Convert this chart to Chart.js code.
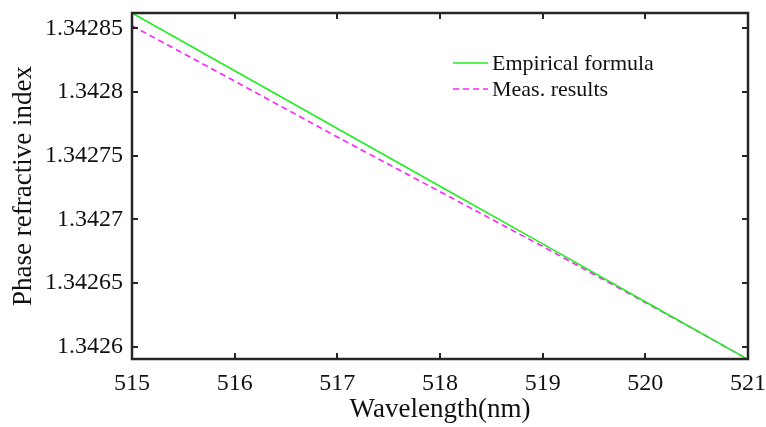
<!DOCTYPE html>
<html>
<head>
<meta charset="utf-8">
<script src="https://cdn.jsdelivr.net/npm/chart.js@4.4.1/dist/chart.umd.min.js"></script>
<style>
  html, body { margin: 0; padding: 0; background: #fff; }
  #wrap { width: 766px; height: 427px; }
</style>
</head>
<body>
<div id="wrap"><canvas id="c" width="766" height="427"></canvas></div>
<script>
// Wavelength samples (nm)
const wavelengths = [515, 516, 517, 518, 519, 520, 521];
// Phase refractive index from the empirical formula
const empirical = [1.342862, 1.3428167, 1.3427713, 1.342726, 1.3426807, 1.3426353, 1.34259];
// Measured phase refractive index
const measured = [1.342852, 1.3428085, 1.3427646, 1.3427217, 1.3426787, 1.3426347, 1.34259];
// Axis tick values
const xTicks = [515, 516, 517, 518, 519, 520, 521];
const yTicks = [1.3426, 1.34265, 1.3427, 1.34275, 1.3428, 1.34285];
const yTickLabels = ['1.3426', '1.34265', '1.3427', '1.34275', '1.3428', '1.34285'];

const FONT = "'Liberation Serif', 'Times New Roman', serif";
const INK = '#262626';

// Box frame with inward tick marks on all four sides
const framePlugin = {
  id: 'frame',
  afterDraw(chart) {
    const { ctx, chartArea: a, scales: { x, y } } = chart;
    ctx.save();
    ctx.strokeStyle = INK;
    ctx.lineWidth = 2;
    const len = 6;
    ctx.beginPath();
    xTicks.forEach(v => {
      const px = Math.round(x.getPixelForValue(v));
      ctx.moveTo(px, a.bottom); ctx.lineTo(px, a.bottom - len);
      ctx.moveTo(px, a.top); ctx.lineTo(px, a.top + len);
    });
    yTicks.forEach(v => {
      const py = Math.round(y.getPixelForValue(v));
      ctx.moveTo(a.left, py); ctx.lineTo(a.left + len, py);
      ctx.moveTo(a.right, py); ctx.lineTo(a.right - len, py);
    });
    ctx.stroke();
    ctx.lineWidth = 2.5;
    ctx.strokeRect(a.left, a.top, a.right - a.left, a.bottom - a.top);
    ctx.restore();
  }
};

// Legend drawn inside the plot, no box
const legendPlugin = {
  id: 'inlineLegend',
  afterDraw(chart) {
    const { ctx } = chart;
    ctx.save();
    ctx.font = '22px ' + FONT;
    ctx.textBaseline = 'middle';
    ctx.fillStyle = '#111';
    const x0 = 453, x1 = 488, tx = 492;
    const rows = [63, 89];
    chart.data.datasets.forEach((ds, i) => {
      ctx.strokeStyle = ds.borderColor;
      ctx.lineWidth = ds.borderWidth;
      ctx.setLineDash(ds.borderDash || []);
      ctx.beginPath();
      ctx.moveTo(x0, rows[i]); ctx.lineTo(x1, rows[i]);
      ctx.stroke();
      ctx.setLineDash([]);
      ctx.fillText(ds.label, tx, rows[i] + 1);
    });
    ctx.restore();
  }
};

new Chart(document.getElementById('c'), {
  type: 'line',
  data: {
    datasets: [
      {
        label: 'Empirical formula',
        data: wavelengths.map((w, i) => ({ x: w, y: empirical[i] })),
        borderColor: '#22ee22',
        borderWidth: 1.6,
        pointRadius: 0,
        tension: 0
      },
      {
        label: 'Meas. results',
        data: wavelengths.map((w, i) => ({ x: w, y: measured[i] })),
        borderColor: '#ff22ff',
        borderWidth: 1.6,
        borderDash: [6, 4],
        pointRadius: 0,
        tension: 0
      }
    ]
  },
  options: {
    responsive: false,
    animation: false,
    layout: { padding: { top: 13, right: 18, left: 0, bottom: 0 } },
    plugins: { legend: { display: false }, tooltip: { enabled: false } },
    scales: {
      x: {
        type: 'linear',
        min: 515, max: 521,
        afterFit(s) { s.height = 68; s.paddingLeft = 0; s.paddingRight = 0; },
        afterBuildTicks(s) { s.ticks = xTicks.map(v => ({ value: v })); },
        grid: { display: false, drawTicks: false },
        border: { display: false },
        ticks: { color: '#111', font: { family: FONT, size: 24 }, padding: 10, maxRotation: 0 },
        title: { display: true, text: 'Wavelength(nm)', color: '#111', font: { family: FONT, size: 27 }, padding: 1 }
      },
      y: {
        type: 'linear',
        min: 1.3425903, max: 1.342862,
        afterFit(s) { s.width = 132; s.paddingTop = 0; s.paddingBottom = 0; },
        afterBuildTicks(s) { s.ticks = yTicks.map(v => ({ value: v })); },
        grid: { display: false, drawTicks: false },
        border: { display: false },
        ticks: {
          color: '#111', font: { family: FONT, size: 24 }, padding: 9,
          callback: (v) => { const i = yTicks.findIndex(t => Math.abs(t - v) < 1e-9); return i >= 0 ? yTickLabels[i] : ''; }
        },
        title: { display: true, text: 'Phase refractive index', color: '#111', font: { family: FONT, size: 27 }, padding: 8 }
      }
    }
  },
  plugins: [framePlugin, legendPlugin]
});
</script>
</body>
</html>
